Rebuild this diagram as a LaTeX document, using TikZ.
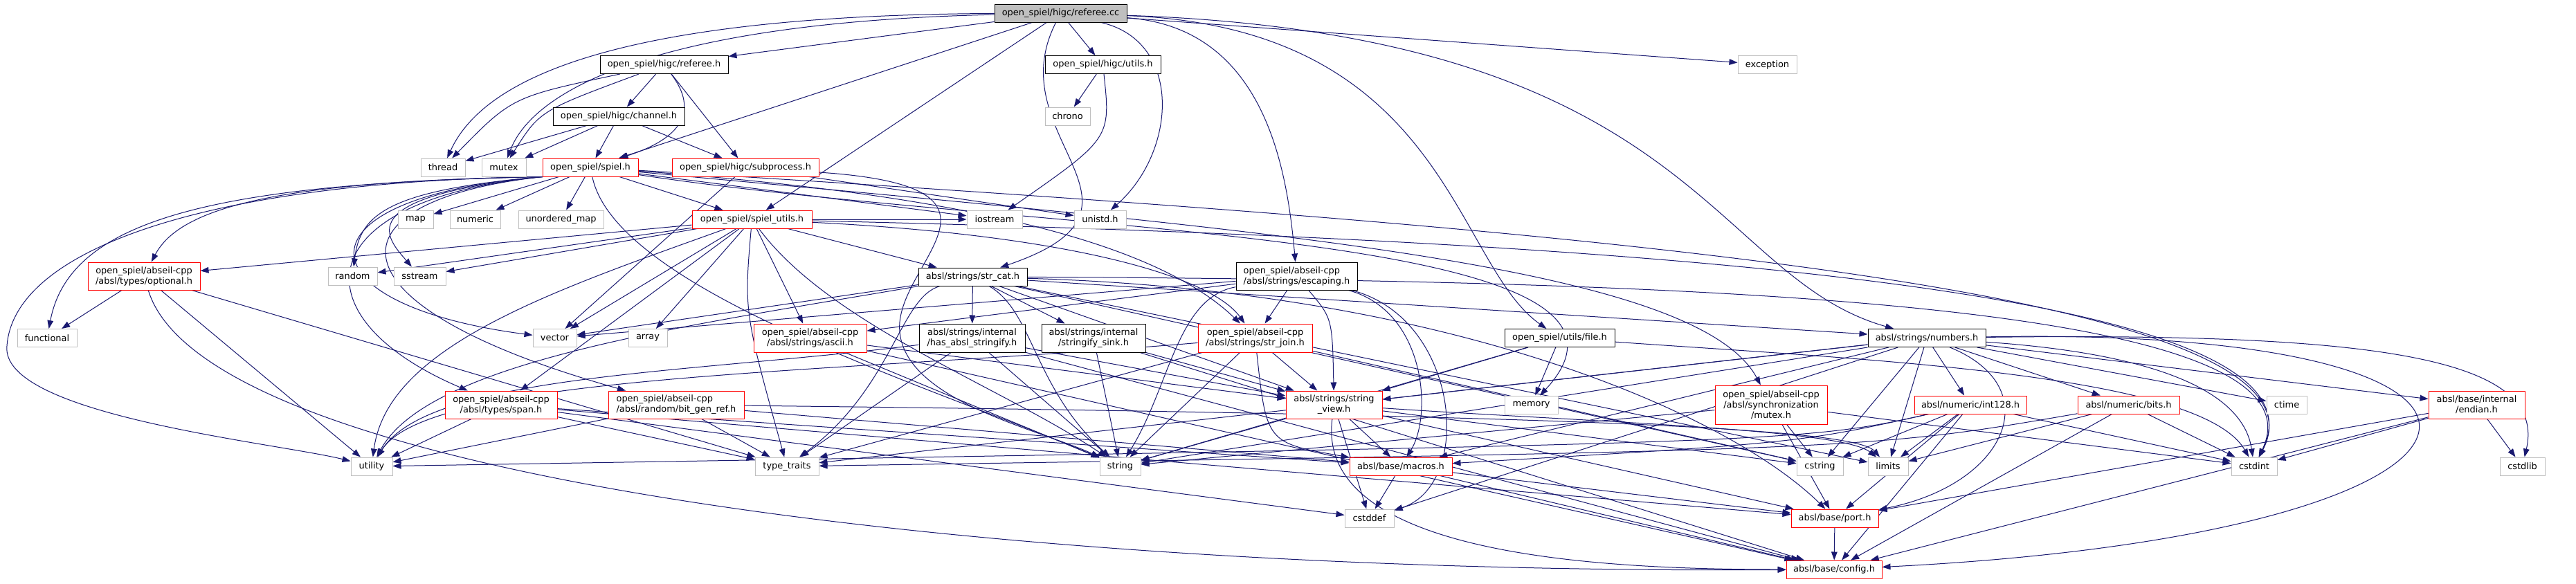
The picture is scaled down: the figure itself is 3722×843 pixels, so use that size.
\documentclass[tikz,border=0pt]{standalone}
\usepackage{fontspec}
\setmainfont{DejaVu Sans}
\usetikzlibrary{arrows.meta}
\definecolor{edgec}{HTML}{191970}
\definecolor{grayb}{HTML}{BFBFBF}
\definecolor{redb}{HTML}{FF0000}
\pgfdeclarelayer{bg}
\pgfdeclarelayer{edges}
\pgfsetlayers{bg,edges,main}
\tikzset{
 nbase/.style={rectangle, fill=white, inner sep=0pt, line width=0.75pt, align=center, font=\fontsize{9.7}{11.25}\selectfont},
 nb/.style={nbase, draw=black},
 nr/.style={nbase, draw=redb},
 ng/.style={nbase, draw=grayb},
 nroot/.style={nbase, draw=black, fill=grayb},
 W/.style={minimum width=#1*0.75pt},
 H/.style={minimum height=#1*0.75pt},
 e/.style={draw=edgec, line width=0.75pt, -{Triangle[length=9pt,width=6.5pt]}},
}
\begin{document}
\begin{tikzpicture}[x=0.75pt,y=-0.75pt]
\useasboundingbox (0,0) rectangle (3722,843);
\begin{pgfonlayer}{bg}
\fill[white] (0,0) rectangle (3722,843);
\end{pgfonlayer}
% nodes
\node[nroot,W=191,H=26] (cc) at (1532.5,19) {open\_spiel/higc/referee.cc};
\node[nb,W=185,H=26] (refh) at (959.5,93.5) {open\_spiel/higc/referee.h};
\node[nb,W=167,H=26] (utilsh) at (1593.5,93.5) {open\_spiel/higc/utils.h};
\node[ng,W=85,H=26] (exception) at (2553.5,93.5) {exception};
\node[nb,W=190,H=26] (channel) at (894,168) {open\_spiel/higc/channel.h};
\node[ng,W=65,H=26] (chrono) at (1542.5,168) {chrono};
\node[ng,W=64,H=26] (thread) at (640,242) {thread};
\node[ng,W=64,H=26] (mutex) at (728,242) {mutex};
\node[nr,W=138,H=26] (spielh) at (853,242) {open\_spiel/spiel.h};
\node[nr,W=212,H=26] (subproc) at (1077,242) {open\_spiel/higc/subprocess.h};
\node[ng,W=51,H=26] (map) at (600.5,317) {map};
\node[ng,W=73,H=26] (numeric) at (686.5,317) {numeric};
\node[ng,W=123,H=26] (umap) at (810.5,317) {unordered\_map};
\node[nr,W=173,H=26] (spielutils) at (1086.5,317) {open\_spiel/spiel\_utils.h};
\node[ng,W=80,H=26] (iostream) at (1437,317) {iostream};
\node[ng,W=75,H=26] (unistd) at (1589.5,317) {unistd.h};
\node[nr,W=162,H=40] (optional) at (208,399) {open\_spiel/abseil-cpp\\/absl/types/optional.h};
\node[ng,W=71,H=26] (random) at (509.5,399) {random};
\node[ng,W=75,H=26] (sstream) at (606.5,399) {sstream};
\node[nb,W=157,H=26] (strcat) at (1405.5,400) {absl/strings/str\_cat.h};
\node[nb,W=175,H=40,align=left] (escaping) at (1873.5,399) {open\_spiel/abseil-cpp\\/absl/strings/escaping.h};
\node[ng,W=86,H=26] (functional) at (68,488.5) {functional};
\node[ng,W=63,H=26] (vector) at (801.5,488.5) {vector};
\node[ng,W=56,H=26] (array) at (936,488.5) {array};
\node[nr,W=163,H=41] (ascii) at (1170.5,488.5) {open\_spiel/abseil-cpp\\/absl/strings/ascii.h};
\node[nb,W=153,H=41] (hasabsl) at (1404.5,488.5) {absl/strings/internal\\/has\_absl\_stringify.h};
\node[nb,W=150,H=41] (sink) at (1580,488.5) {absl/strings/internal\\/stringify\_sink.h};
\node[nr,W=165,H=41] (strjoin) at (1813.5,488.5) {open\_spiel/abseil-cpp\\/absl/strings/str\_join.h};
\node[nb,W=159,H=26] (file) at (2253.5,488.5) {open\_spiel/utils/file.h};
\node[nb,W=170,H=26] (numbers) at (2784,488.5) {absl/strings/numbers.h};
\node[nr,W=162,H=40] (span) at (724,585) {open\_spiel/abseil-cpp\\/absl/types/span.h};
\node[nr,W=196,H=40,align=left] (bitgen) at (977,585) {open\_spiel/abseil-cpp\\/absl/random/bit\_gen\_ref.h};
\node[nr,W=139,H=40] (sv) at (1927.5,585) {absl/strings/string\\\_view.h};
\node[ng,W=77,H=26] (memory) at (2212.5,585) {memory};
\node[nr,W=162,H=56] (syncmutex) at (2559,585) {open\_spiel/abseil-cpp\\/absl/synchronization\\/mutex.h};
\node[nr,W=162,H=26] (int128) at (2847,585) {absl/numeric/int128.h};
\node[nr,W=147,H=26] (bits) at (3075.5,585) {absl/numeric/bits.h};
\node[ng,W=58,H=26] (ctime) at (3304,585) {ctime};
\node[nr,W=139,H=40] (endian) at (3578.5,585) {absl/base/internal\\/endian.h};
\node[ng,W=60,H=26] (utility) at (537,674) {utility};
\node[ng,W=92,H=26] (typetraits) at (1137,674) {type\_traits};
\node[ng,W=59,H=26] (string) at (1618.5,674) {string};
\node[nr,W=148,H=26] (macros) at (2024,674) {absl/base/macros.h};
\node[ng,W=67,H=26] (cstring) at (2629.5,674) {cstring};
\node[ng,W=58,H=26] (limits) at (2728,674) {limits};
\node[ng,W=66,H=26] (cstdint) at (3257,674) {cstdint};
\node[ng,W=65,H=26] (cstdlib) at (3644.5,674) {cstdlib};
\node[ng,W=71,H=26] (cstddef) at (1978.5,749) {cstddef};
\node[nr,W=126,H=26] (port) at (2651,749) {absl/base/port.h};
\node[nr,W=138,H=26] (config) at (2650,823) {absl/base/config.h};
% edges
\begin{pgfonlayer}{edges}
\foreach \a/\b in {cc/refh, cc/utilsh, cc/exception, cc/spielh, cc/spielutils,
 refh/channel, refh/subproc, utilsh/chrono,
 channel/thread, channel/mutex, channel/spielh, channel/subproc,
 subproc/unistd, subproc/vector,
 spielh/map, spielh/numeric, spielh/umap, spielh/spielutils, spielh/iostream,
 spielutils/optional, spielutils/random, spielutils/sstream, spielutils/vector, spielutils/array, spielutils/ascii, spielutils/strcat, spielutils/span, spielutils/iostream,
 strcat/cstring, strcat/limits, strcat/vector, strcat/hasabsl, strcat/sink, strcat/numbers, strcat/sv,
 escaping/vector, escaping/ascii, escaping/strjoin,
 ascii/string, ascii/config, ascii/sv,
 hasabsl/string, hasabsl/typetraits, hasabsl/config, hasabsl/sv,
 sink/string, sink/config, sink/sv,
 strjoin/cstring, strjoin/string, strjoin/typetraits, strjoin/sv,
 file/memory, file/string, file/sv,
 numbers/cstddef, numbers/cstring, numbers/ctime, numbers/limits, numbers/string, numbers/typetraits, numbers/endian, numbers/macros, numbers/bits, numbers/int128, numbers/sv,
 optional/functional, optional/typetraits, optional/utility,
 span/cstddef, span/typetraits, span/utility, span/macros, span/port,
 bitgen/typetraits, bitgen/utility, bitgen/macros,
 sv/cstddef, sv/cstring, sv/string, sv/macros, sv/port,
 syncmutex/cstdint, syncmutex/cstring, syncmutex/string, syncmutex/port,
 int128/cstdint, int128/cstring, int128/limits, int128/config, int128/port,
 bits/cstdint, bits/limits, bits/config,
 endian/cstdint, endian/cstdlib, endian/port, endian/config,
 macros/cstddef, macros/config, macros/port, port/config}
 \draw[e] (\a) -- (\b);
\draw[e] (cc) .. controls (900,22) and (700,110) .. (thread);
\draw[e] (cc) .. controls (950,32) and (770,130) .. (mutex);
\draw[e] (cc) .. controls (1440,200) and (1700,300) .. (strcat);
\draw[e] (cc) .. controls (1710,60) and (1700,220) .. (unistd);
\draw[e] (cc) .. controls (1830,40) and (1860,250) .. (escaping);
\draw[e] (cc) .. controls (2090,40) and (2100,380) .. (file);
\draw[e] (cc) .. controls (2450,50) and (2470,400) .. (numbers);
\draw[e] (refh) .. controls (740,140) .. (thread);
\draw[e] (refh) .. controls (780,160) .. (mutex);
\draw[e] (refh) .. controls (1010,160) and (985,200) .. (spielh);
\draw[e] (utilsh) .. controls (1605,200) .. (iostream);
\draw[e] (subproc) .. controls (1500,270) and (1290,380) .. (1300,480) .. controls (1310,580) and (1500,620) .. (string);
\draw[e] (spielh.south west) .. controls (560,275) and (520,310) .. (random);
\draw[e] (spielh.south west) .. controls (500,285) and (560,345) .. (sstream);
\draw[e] (spielh.south west) .. controls (400,262) and (260,300) .. (optional);
\draw[e] (spielh.south west) .. controls (300,265) and (100,320) .. (functional);
\draw[e] (spielh.south west) .. controls (300,262) and (20,360) .. (10,500) .. controls (0,600) and (400,640) .. (utility);
\draw[e] (spielh.south west) .. controls (420,285) and (430,440) .. (vector);
\draw[e] (spielh.south west) .. controls (440,290) and (430,460) .. (span);
\draw[e] (spielh.south west) .. controls (470,290) and (460,440) .. (bitgen);
\draw[e] (spielh) .. controls (1500,340) and (2450,330) .. (memory);
\draw[e] (spielh) .. controls (890,420) and (1350,560) .. (string);
\draw[e] (spielh) .. controls (1300,275) and (1650,330) .. (strjoin);
\draw[e] (spielh) .. controls (1800,330) and (2450,380) .. (syncmutex);
\draw[e] (spielh) .. controls (2300,330) and (3390,420) .. (cstdint);
\draw[e] (spielutils) .. controls (1550,340) and (1750,400) .. (strjoin);
\draw[e] (spielutils) .. controls (1075,450) .. (typetraits);
\draw[e] (spielutils) .. controls (800,420) and (560,500) .. (utility);
\draw[e] (spielutils) .. controls (1200,470) and (1450,560) .. (string);
\draw[e] (spielutils) .. controls (2500,350) and (3380,430) .. (cstdint);
\draw[e] (strcat) .. controls (2500,405) and (3370,440) .. (cstdint);
\draw[e] (strcat) .. controls (1493,450) and (1493,560) .. (string);
\draw[e] (strcat) .. controls (1300,430) and (1290,560) .. (typetraits);
\draw[e] (strcat) .. controls (1000,470) and (620,520) .. (utility);
\draw[e] (strcat) .. controls (2100,420) and (2500,600) .. (port);
\draw[e] (escaping) .. controls (2110,460) and (2130,700) .. (cstddef);
\draw[e] (escaping) .. controls (1700,430) and (1690,560) .. (string);
\draw[e] (escaping) .. controls (2060,450) and (2070,600) .. (macros);
\draw[e] (escaping) .. controls (1925,460) .. (sv);
\draw[e] (hasabsl) .. controls (1000,540) and (620,540) .. (utility);
\draw[e] (strjoin) .. controls (1200,540) and (620,540) .. (utility);
\draw[e] (strjoin) .. controls (1830,640) .. (macros);
\draw[e] (file) .. controls (2700,520) and (3180,540) .. (cstdint);
\draw[e] (numbers) .. controls (3450,480) and (3680,520) .. (cstdlib);
\draw[e] (numbers) .. controls (3750,470) and (3700,770) .. (config);
\draw[e] (numbers) .. controls (2960,560) and (2900,700) .. (port);
\draw[e] (numbers) .. controls (3100,510) and (3240,560) .. (cstdint);
\draw[e] (optional) .. controls (300,700) and (1500,830) .. (config);
\draw[e] (bitgen) .. controls (2300,600) and (2680,620) .. (limits);
\draw[e] (sv) .. controls (2300,610) and (2660,620) .. (limits);
\draw[e] (sv) .. controls (1900,800) and (2300,823) .. (config);
\draw[e] (int128) .. controls (2600,640) .. (utility);
\draw[e] (int128) .. controls (2600,640) .. (macros);
\draw[e] (bits) .. controls (2700,650) .. (typetraits);
\end{pgfonlayer}
\end{tikzpicture}
\end{document}
